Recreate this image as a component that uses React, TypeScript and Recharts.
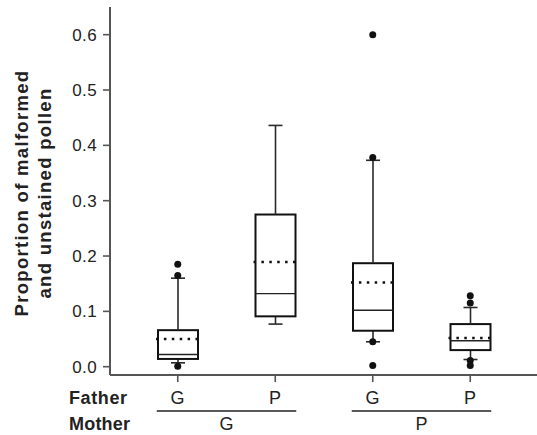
import React from 'react';
import { ComposedChart, Bar, Line, XAxis, YAxis } from 'recharts';

// group keys, father / mother labels
const categories = ['GG', 'PG', 'GP', 'PP'];
const fatherLabels = ['G', 'P', 'G', 'P'];
const motherLabels = ['G', 'P'];

// box statistics per group
const lowWhisker = [0.007, 0.077, 0.045, 0.013];
const q1 = [0.014, 0.091, 0.065, 0.03];
const median = [0.022, 0.132, 0.102, 0.047];
const q3 = [0.066, 0.275, 0.187, 0.077];
const highWhisker = [0.16, 0.436, 0.373, 0.107];
const mean = [0.05, 0.189, 0.152, 0.052];
const outliers = [
  [0.185, 0.165, 0.001],
  [],
  [0.6, 0.378, 0.045, 0.002],
  [0.128, 0.115, 0.011, 0.002],
];
const yTicks = [0, 0.1, 0.2, 0.3, 0.4, 0.5, 0.6];

const rows = categories.map((cat, i) => ({
  cat,
  base: lowWhisker[i],
  lower: q1[i] - lowWhisker[i],
  box: q3[i] - q1[i],
  upper: highWhisker[i] - q3[i],
  q1: q1[i],
  q3: q3[i],
  median: median[i],
  mean: mean[i],
  o0: outliers[i][0] ?? null,
  o1: outliers[i][1] ?? null,
  o2: outliers[i][2] ?? null,
  o3: outliers[i][3] ?? null,
}));

const W = 537;
const H = 435;
const Y_W = 110;
const PAD_L = 19;
const PAD_R = 18;
const BAND = (W - Y_W - PAD_L - PAD_R) / categories.length;
const FONT = '"Liberation Sans", Arial, Helvetica, sans-serif';
const CAP = 7;

const LowerWhisker = (props: any) => {
  const { x, y, width, height } = props;
  const cx = x + width / 2;
  return (
    <g stroke="#2a2a2a" strokeWidth={1.6}>
      <line x1={cx} x2={cx} y1={y} y2={y + height} />
      <line x1={cx - CAP} x2={cx + CAP} y1={y + height} y2={y + height} />
    </g>
  );
};

const UpperWhisker = (props: any) => {
  const { x, y, width, height } = props;
  const cx = x + width / 2;
  return (
    <g stroke="#2a2a2a" strokeWidth={1.6}>
      <line x1={cx} x2={cx} y1={y} y2={y + height} />
      <line x1={cx - CAP} x2={cx + CAP} y1={y} y2={y} />
    </g>
  );
};

const BoxShape = (props: any) => {
  const { x, y, width, height, payload } = props;
  const span = payload.q3 - payload.q1;
  const medY = y + (height * (payload.q3 - payload.median)) / span;
  const meanY = y + (height * (payload.q3 - payload.mean)) / span;
  return (
    <g>
      <rect x={x} y={y} width={width} height={height} fill="#fff" stroke="#111" strokeWidth={2} />
      <line x1={x} x2={x + width} y1={medY} y2={medY} stroke="#222" strokeWidth={1.4} />
      <line
        x1={x - 2}
        x2={x + width}
        y1={meanY}
        y2={meanY}
        stroke="#111"
        strokeWidth={2.5}
        strokeDasharray="2.5 5.4"
      />
    </g>
  );
};

const GroupTick = (props: any) => {
  const { x, y, payload } = props;
  const i = categories.indexOf(payload.value);
  return (
    <g fontFamily={FONT}>
      <text x={x} y={y + 12} textAnchor="middle" fontSize={18} letterSpacing={0.5} fill="#222">
        {fatherLabels[i]}
      </text>
      {i === 0 && (
        <>
          <text x={69} y={y + 12} fontSize={18} fontWeight="bold" letterSpacing={0.6} fill="#222">Father</text>
          <text x={69} y={y + 38} fontSize={18} fontWeight="bold" letterSpacing={0.2} fill="#222">Mother</text>
        </>
      )}
      {i % 2 === 0 && (
        <>
          <line x1={x - 21} x2={x + BAND + 21} y1={y + 19} y2={y + 19} stroke="#222" strokeWidth={1.4} />
          <text x={x + BAND / 2} y={y + 38} textAnchor="middle" fontSize={18} fill="#222">
            {motherLabels[i / 2]}
          </text>
        </>
      )}
    </g>
  );
};

const dotStyle = { r: 3.5, fill: '#111', stroke: 'none' };

export default function App() {
  return (
    <div style={{ position: 'absolute', left: 0, top: 0, width: W, height: H, overflow: 'hidden', background: '#fff' }}>
      <ComposedChart width={W} height={H} data={rows} margin={{ top: 7, right: 0, bottom: 0, left: 0 }} barSize={40}>
        <XAxis
          xAxisId="top"
          orientation="top"
          dataKey="cat"
          height={0}
          tick={false}
          tickLine={false}
          axisLine={{ stroke: '#555', strokeWidth: 2 }}
          padding={{ left: PAD_L, right: PAD_R }}
        />
        <XAxis
          dataKey="cat"
          height={60}
          interval={0}
          tickSize={7}
          tickMargin={10}
          tickLine={{ stroke: '#555', strokeWidth: 1.6 }}
          axisLine={{ stroke: '#555', strokeWidth: 2 }}
          padding={{ left: PAD_L, right: PAD_R }}
          tick={<GroupTick />}
        />
        <YAxis
          width={Y_W}
          domain={[-0.015, 0.65]}
          ticks={yTicks}
          interval={0}
          tickSize={7}
          tickMargin={6}
          tickFormatter={(v: number) => v.toFixed(1)}
          tick={{ fill: '#222', fontSize: 17, fontFamily: FONT, letterSpacing: 0.4 }}
          tickLine={{ stroke: '#555', strokeWidth: 1.6 }}
          axisLine={{ stroke: '#555', strokeWidth: 2 }}
          allowDataOverflow
        />
        <Bar dataKey="base" stackId="b" fill="transparent" isAnimationActive={false} />
        <Bar dataKey="lower" stackId="b" shape={<LowerWhisker />} isAnimationActive={false} />
        <Bar dataKey="box" stackId="b" shape={<BoxShape />} isAnimationActive={false} />
        <Bar dataKey="upper" stackId="b" shape={<UpperWhisker />} isAnimationActive={false} />
        {['o0', 'o1', 'o2', 'o3'].map((k) => (
          <Line
            key={k}
            dataKey={k}
            stroke="none"
            dot={dotStyle}
            activeDot={false}
            isAnimationActive={false}
          />
        ))}
      </ComposedChart>
      <svg width={W} height={H} style={{ position: 'absolute', left: 0, top: 0, pointerEvents: 'none' }}>
        <text
          transform="translate(28,193) rotate(-90)"
          textAnchor="middle"
          fontFamily={FONT}
          fontSize={18.5}
          fontWeight="bold"
          letterSpacing={1.3}
          fill="#222"
        >
          <tspan x={0} dy={0}>Proportion of malformed</tspan>
          <tspan x={0} dy={23}>and unstained pollen</tspan>
        </text>
      </svg>
    </div>
  );
}
